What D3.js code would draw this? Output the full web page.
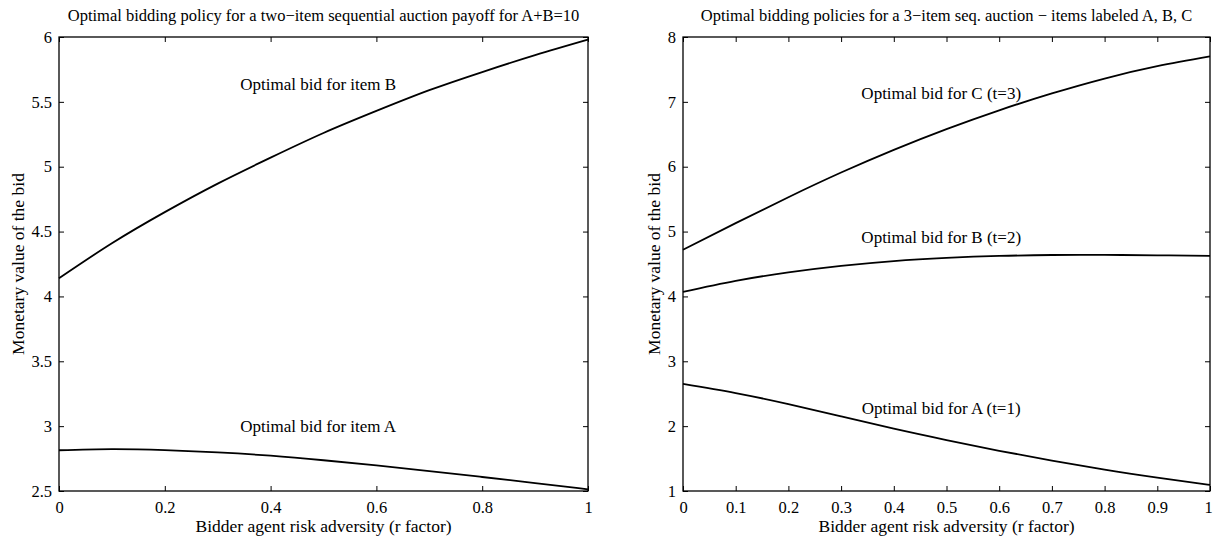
<!DOCTYPE html>
<html><head><meta charset="utf-8">
<script src="https://cdn.jsdelivr.net/npm/d3@7"></script>
<style>
html,body{margin:0;padding:0;background:#fff;}
svg text{font-family:"Liberation Serif","Tinos","DejaVu Serif",serif !important;fill:#000;}
</style></head>
<body><svg id="c" width="1213" height="538"></svg>
<script>
// ---- data ----
const rLeft = [0,0.1,0.2,0.3,0.4,0.5,0.6,0.7,0.8,0.9,1];
const leftItemB = [4.14,4.41,4.65,4.87,5.07,5.26,5.43,5.59,5.73,5.86,5.98];
const leftItemA = [2.814,2.823,2.815,2.797,2.772,2.737,2.697,2.654,2.608,2.561,2.513];
const leftXTicks = [0,0.2,0.4,0.6,0.8,1];
const leftYTicks = [2.5,3,3.5,4,4.5,5,5.5,6];

const rRight = [0,0.1,0.2,0.3,0.4,0.5,0.6,0.7,0.8,0.9,1];
const rightC = [4.72,5.13,5.53,5.91,6.26,6.58,6.87,7.13,7.36,7.55,7.70];
const rightB = [4.07,4.24,4.37,4.47,4.545,4.593,4.624,4.639,4.640,4.634,4.624];
const rightA = [2.65,2.51,2.34,2.15,1.96,1.785,1.62,1.47,1.33,1.206,1.093];
const rightXTicks = [0,0.1,0.2,0.3,0.4,0.5,0.6,0.7,0.8,0.9,1];
const rightYTicks = [1,2,3,4,5,6,7,8];

const leftTitle = "Optimal bidding policy for a two\u2212item sequential auction payoff for A+B=10";
const rightTitle = "Optimal bidding policies for a 3\u2212item seq. auction \u2212 items labeled A, B, C";
const xLabel = "Bidder agent risk adversity (r factor)";
const yLabel = "Monetary value of the bid";

const leftAnn = [{t:"Optimal bid for item B", x:0.49, y:5.59},{t:"Optimal bid for item A", x:0.49, y:2.955}];
const rightAnn = [{t:"Optimal bid for C (t=3)", x:0.49, y:7.04},{t:"Optimal bid for B (t=2)", x:0.49, y:4.82},{t:"Optimal bid for A (t=1)", x:0.49, y:2.19}];

const svg = d3.select("#c");
const FF = "Liberation Serif";

function panel(o){
  const g = svg.append("g");
  const x = d3.scaleLinear().domain([0,1]).range([o.x0,o.x1]);
  const y = d3.scaleLinear().domain(o.yDom).range([o.y1,o.y0]);
  const tl = 5;
  const line = d3.line().x(d=>x(d[0])).y(d=>y(d[1])).curve(d3.curveNatural);
  o.series.forEach(s=>{
    g.append("path").datum(o.r.map((r,i)=>[r,s[i]]))
      .attr("d",line).attr("fill","none").attr("stroke","#000").attr("stroke-width",1.8);
  });
  const ax = (gen, tx, ty) => {
    const a = g.append("g").attr("transform",`translate(${tx},${ty})`).call(gen);
    a.attr("font-family",FF).attr("font-size",16.5);
    a.select(".domain").remove();
    a.selectAll("line").attr("stroke","#000").attr("stroke-width",1);
    return a;
  };
  const fmt = d3.format("~g");
  const bx = ax(d3.axisBottom(x).tickValues(o.xt).tickSize(-tl).tickPadding(10).tickFormat(fmt),0,o.y1);
  if (o.x1 > 1200) bx.selectAll(".tick").filter(d=>d===1).select("text").attr("dx",-2);
  ax(d3.axisTop(x).tickValues(o.xt).tickSize(-tl).tickFormat(""),0,o.y0);
  ax(d3.axisLeft(y).tickValues(o.yt).tickSize(-tl).tickPadding(7).tickFormat(fmt),o.x0,0);
  ax(d3.axisRight(y).tickValues(o.yt).tickSize(-tl).tickFormat(""),o.x1,0);
  g.append("rect").attr("x",o.x0).attr("y",o.y0).attr("width",o.x1-o.x0).attr("height",o.y1-o.y0)
    .attr("fill","none").attr("stroke","#000").attr("stroke-width",1.3);
  const cx = (o.x0+o.x1)/2;
  const t = (sel,fs)=>sel.attr("font-family",FF).attr("font-size",fs);
  t(g.append("text").attr("x",cx).attr("y",21).attr("text-anchor","middle"),16.5).text(o.title);
  t(g.append("text").attr("x",cx).attr("y",532).attr("text-anchor","middle"),17.5).text(xLabel);
  t(g.append("text").attr("transform",`translate(${o.yl},${(o.y0+o.y1)/2}) rotate(-90)`)
    .attr("text-anchor","middle"),17.5).text(yLabel);
  o.ann.forEach(a=>{
    t(g.append("text").attr("x",x(a.x)).attr("y",y(a.y)).attr("text-anchor","middle"),17).text(a.t);
  });
}

panel({x0:59,x1:588,y0:37,y1:491,yDom:[2.5,6],r:rLeft,series:[leftItemB,leftItemA],
  xt:leftXTicks,yt:leftYTicks,title:leftTitle,ann:leftAnn,yl:24});
panel({x0:683,x1:1210,y0:37,y1:491,yDom:[1,8],r:rRight,series:[rightC,rightB,rightA],
  xt:rightXTicks,yt:rightYTicks,title:rightTitle,ann:rightAnn,yl:660});
</script></body></html>
